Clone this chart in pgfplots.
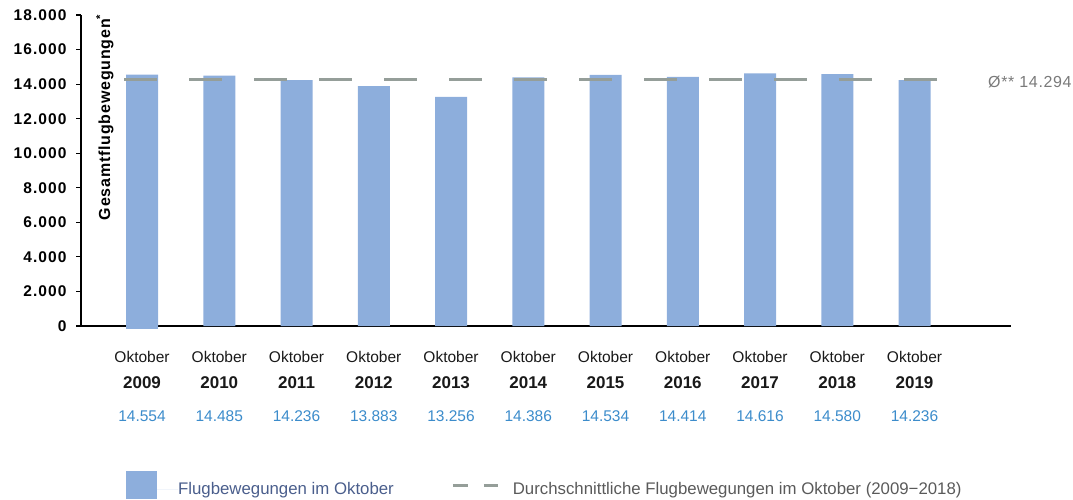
\documentclass[border=0pt]{standalone}
\usepackage{pgfplots}
\pgfplotsset{compat=1.18}
\usepackage{fontspec}
\setmainfont{Liberation Sans}
\definecolor{barblue}{HTML}{8DAEDC}
\definecolor{valblue}{HTML}{3C8CCB}
\definecolor{avggray}{HTML}{959E99}
\definecolor{legblue}{HTML}{4A5E8C}
\definecolor{txtgray}{HTML}{5A5A5A}
\definecolor{lblgray}{HTML}{7A7A7A}
\newcommand\xl[2]{Oktober\\{\fontsize{17}{26}\selectfont\bfseries #1}\\[7pt]\textcolor{valblue}{#2}}
\begin{document}
\begin{tikzpicture}
\path[use as bounding box] (0pt,0pt) rectangle (1073pt,499pt);
\begin{axis}[
  at={(81pt,173pt)}, anchor=south west,
  scale only axis, width=930pt, height=311pt,
  xmin=-0.79, xmax=11.249, ymin=0, ymax=18000,
  clip=false, scaled y ticks=false,
  axis x line*=bottom, axis y line*=left,
  x axis line style={-, line width=2pt, black},
  y axis line style={-, line width=1.5pt, black},
  ytick={0,2000,4000,6000,8000,10000,12000,14000,16000,18000},
  yticklabels={0,2.000,4.000,6.000,8.000,10.000,12.000,14.000,16.000,18.000},
  yticklabel style={font=\bfseries\fontsize{15.5}{16}\selectfont\addfontfeature{LetterSpace=7}, text=black, xshift=-6pt},
  tick align=outside, major tick length=5pt,
  ytick style={black, line width=1.2pt},
  xtick={0,1,2,3,4,5,6,7,8,9,10},
  xtick style={draw=none},
  xticklabels={{\xl{2009}{14.554}},{\xl{2010}{14.485}},{\xl{2011}{14.236}},{\xl{2012}{13.883}},{\xl{2013}{13.256}},{\xl{2014}{14.386}},{\xl{2015}{14.534}},{\xl{2016}{14.414}},{\xl{2017}{14.616}},{\xl{2018}{14.580}},{\xl{2019}{14.236}}},
  xticklabel style={align=center, font=\fontsize{15.5}{26}\selectfont, text=black!90, yshift=-17pt},
  legend style={draw=none, fill=none, inner sep=0pt, at={(axis description cs:0.0483,-0.466)}, anchor=north west, column sep=0pt, nodes={inner sep=0pt}, font=\fontsize{16.8}{18}\selectfont},
  legend columns=2, legend cell align=left,
]
\addplot[ybar, bar width=32pt, bar shift=0pt, fill=barblue, draw=none,
  legend image code/.code={\fill[barblue] (0pt,-10pt) rectangle (31pt,18pt); \path[draw=none] (31pt,0pt) -- (52pt,0pt);}]
  coordinates {(0,14554) (1,14485) (2,14236) (3,13883) (4,13256) (5,14386) (6,14534) (7,14414) (8,14616) (9,14580) (10,14236)};
\addlegendentry{\textcolor{legblue}{Flugbewegungen im Oktober}}
\addplot[ybar, bar width=32pt, bar shift=0pt, fill=barblue, draw=none, forget plot]
  coordinates {(0,-200)};
\addplot[sharp plot, avggray, line width=3pt, dash pattern=on 33pt off 32pt,
  legend image code/.code={\path[draw=none] (-59pt,0pt) -- (60pt,0pt); \draw[solid, avggray, line width=3pt] (0pt,4pt)--(15pt,4pt) (31pt,4pt)--(45pt,4pt);}]
  coordinates {(-0.233,14294) (10.291,14294)};
\addlegendentry{\textcolor{txtgray}{Durchschnittliche Flugbewegungen im Oktober (2009−2018)}}
\end{axis}
\node[rotate=90, anchor=north east, inner sep=0pt, font=\bfseries\fontsize{16}{18}\selectfont\addfontfeature{LetterSpace=5}] at (96pt,485pt) {Gesamtflugbewegungen\textsuperscript{*}};
\node[anchor=base west, inner sep=0pt, text=lblgray, font=\fontsize{16}{17}\selectfont\addfontfeature{LetterSpace=4}] at (988pt,411pt) {Ø** 14.294};
\end{tikzpicture}
\end{document}
